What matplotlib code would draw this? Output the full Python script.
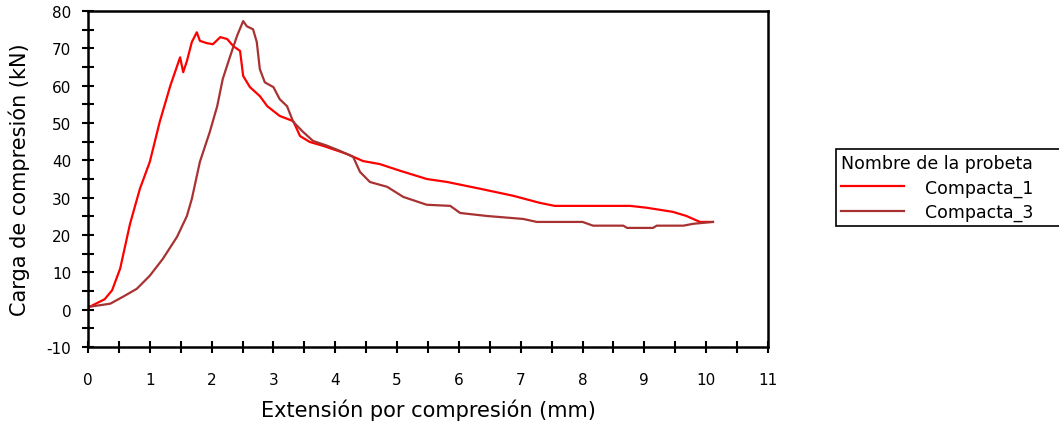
import matplotlib.pyplot as plt
from matplotlib.ticker import MultipleLocator

plt.rcParams['axes.unicode_minus'] = False

# Compacta_1 (rojo)
ext_1 = [0.0, 0.03, 0.27, 0.39, 0.52, 0.68, 0.84, 1.0, 1.16, 1.33, 1.44, 1.49, 1.54, 1.6,
         1.68, 1.76, 1.81, 1.92, 2.02, 2.14, 2.25, 2.35, 2.46, 2.51, 2.62, 2.78, 2.9,
         3.1, 3.32, 3.43, 3.59, 3.8, 4.19, 4.45, 4.72, 5.05, 5.48, 5.81, 6.34, 6.88,
         7.31, 7.55, 8.77, 9.04, 9.46, 9.68, 9.9, 10.11]
carga_1 = [0.5, 0.8, 2.8, 5.2, 11.0, 23.0, 32.4, 39.6, 50.3, 59.9, 65.2, 67.6, 63.6, 66.6,
           71.7, 74.3, 72.0, 71.4, 71.1, 73.0, 72.5, 70.6, 69.3, 62.6, 59.6, 57.2, 54.5,
           51.9, 50.5, 46.5, 44.9, 43.9, 41.7, 39.8, 39.0, 37.2, 35.0, 34.2, 32.4, 30.5,
           28.6, 27.8, 27.8, 27.3, 26.2, 25.1, 23.5, 23.5]

# Compacta_3 (marron)
ext_3 = [0.0, 0.03, 0.36, 0.57, 0.79, 1.0, 1.21, 1.44, 1.6, 1.68, 1.81, 1.97, 2.09, 2.18,
         2.3, 2.41, 2.51, 2.57, 2.67, 2.73, 2.78, 2.86, 3.0, 3.1, 3.22, 3.32, 3.48, 3.64,
         3.87, 4.08, 4.29, 4.4, 4.56, 4.84, 5.1, 5.48, 5.86, 6.02, 6.45, 7.04, 7.26, 8.0,
         8.17, 8.66, 8.72, 9.14, 9.2, 9.63, 9.79, 10.11]
carga_3 = [0.5, 0.8, 1.6, 3.5, 5.6, 9.1, 13.6, 19.5, 25.1, 29.7, 39.6, 47.6, 54.5, 61.8,
           67.9, 73.3, 77.3, 75.9, 75.1, 71.7, 64.4, 60.9, 59.6, 56.4, 54.5, 50.3, 47.6, 45.2,
           43.9, 42.5, 40.9, 36.9, 34.2, 32.9, 30.2, 28.1, 27.8, 25.9, 25.1, 24.3, 23.5, 23.5,
           22.5, 22.5, 21.9, 21.9, 22.5, 22.5, 23.0, 23.5]

fig = plt.figure(figsize=(10.59, 4.27), dpi=100)
ax = fig.add_axes([88/1059, 1 - 348/427, (768 - 88)/1059, (348 - 12)/427])

l1, = ax.plot(ext_1, carga_1, color='#ff0000', linewidth=1.6, label='Compacta_1')
l3, = ax.plot(ext_3, carga_3, color='#a83232', linewidth=1.6, label='Compacta_3')

ax.set_xlim(0, 11)
ax.set_ylim(-10, 80)
ax.xaxis.set_major_locator(MultipleLocator(1))
ax.xaxis.set_minor_locator(MultipleLocator(0.5))
ax.yaxis.set_major_locator(MultipleLocator(10))
ax.yaxis.set_minor_locator(MultipleLocator(5))
ax.tick_params(which='both', direction='inout', width=1.5, length=8, labelsize=11)
ax.tick_params(axis='x', which='both', pad=14)
ax.tick_params(axis='y', which='both', pad=8)
for s in ax.spines.values():
    s.set_linewidth(1.8)

ax.set_xlabel('Extensión por compresión (mm)', fontsize=15, labelpad=8)
ax.set_ylabel('Carga de compresión (kN)', fontsize=15, labelpad=12)

# leyenda ancha, cortada por el borde derecho como en el original
leg = fig.legend([l1, l3], ['Compacta_1', 'Compacta_3'], title='Nombre de la probeta',
                 loc='upper left', mode='expand',
                 bbox_to_anchor=(836/1059, 1 - 150/427, 240/1059, 0.0),
                 fontsize=12.5, title_fontsize=12.5, alignment='left',
                 handlelength=3.6, handletextpad=1.2, labelspacing=0.35,
                 fancybox=False, framealpha=1, borderpad=0.3, borderaxespad=0)
leg.get_frame().set_edgecolor('black')
leg.get_frame().set_linewidth(1.2)

plt.savefig('out.png', dpi=100)
